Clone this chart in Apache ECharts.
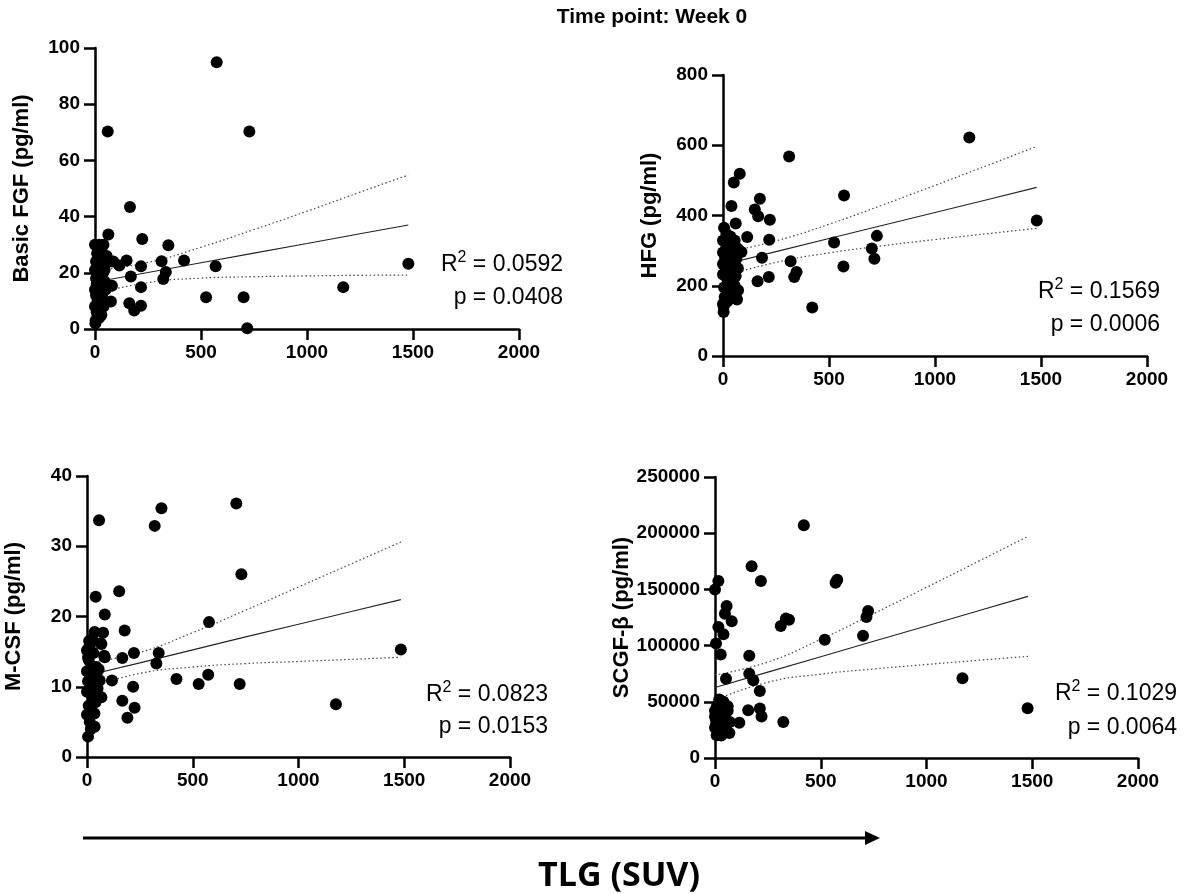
<!DOCTYPE html>
<html><head><meta charset="utf-8">
<script src="https://cdn.jsdelivr.net/npm/echarts@6/dist/echarts.min.js"></script>
<style>html,body{margin:0;padding:0;background:#fff}#c{width:1202px;height:894px}</style>
</head><body><div id="c"></div>
<script>
// ---------- data ----------
const mainTitle = 'Time point: Week 0';
const xAxisTitle = 'TLG (SUV)';
const xTickMax = 2000, xTickStep = 500;

// Panel 1: Basic FGF
const fgfX = [1478,1171,728,718,701,574,569,524,420,346,334,322,314,223,217,217,217,185,169,165,162,149,115,75,63,60,80,86,
  3,20,8,30,0,40,12,25,5,35,0,15,28,45,5,20,38,0,12,30,48,5,22,40,10,30,0,20,40,15,25,8,33,18,2,50,45,55];
const fgfY = [23.2,14.9,70.3,0.3,11.3,94.9,22.3,11.3,24.4,29.8,20.3,17.8,24.1,32,22.3,14.9,8.3,6.6,18.7,43.4,9.2,24.4,22.6,9.8,33.6,70.3,15.4,24,
  3,4,6,5,8,8,10,11,12,13,14,15,16,17,18,19,20,21,22,22,23,24,25,25,27,28,30,30,30,20,18,16,12,9,2,14,21,26];
const fgfFitX = [0,250,500,750,1000,1250,1478];
const fgfFit = [16.7,20.1,23.6,27.0,30.4,33.9,37.0];
const fgfUpper = [20.9,23.7,29.1,35.4,41.9,48.7,54.8];
const fgfLower = [12.5,16.5,18.1,18.6,18.9,19.1,19.2];
const fgfStats = ['0.0592','0.0408'];

// Panel 2: HFG
const hfgX = [312,79,51,571,40,174,150,166,221,60,114,218,524,726,702,714,568,184,319,347,336,163,216,421,66,3,3,1162,1480,
  5,16,35,0,55,20,16,71,40,0,32,87,55,10,63,30,0,45,16,70,35,0,60,20,40,24,71,5,35,8,63,20,0,45,55,30];
const hfgY = [568,519,494,457,427,448,417,398,388,377,339,331,323,342,306,277,255,280,270,239,225,213,225,138,161,140,125,622,386,
  365,348,340,329,329,318,310,305,300,295,291,296,285,280,277,270,262,258,249,250,240,232,228,220,210,211,187,195,180,168,163,155,148,175,200,260];
const hfgFitX = [0,250,500,750,1000,1250,1480];
const hfgFit = [260,297.2,334.3,371.5,408.6,445.8,480];
const hfgUpper = [293.8,327.8,375.1,429.3,485.7,543.2,596.5];
const hfgLower = [226.2,266.6,293.5,313.7,331.5,348.4,363.5];
const hfgStats = ['0.1569','0.0006'];

// Panel 3: M-CSF
const mcsfX = [57,352,320,706,730,152,41,84,577,178,76,65,81,167,222,339,328,118,218,423,528,573,722,167,225,191,1177,1484,
  5,36,13,0,22,8,40,68,25,0,15,50,30,5,13,60,45,0,44,20,8,5,84,30,13,68,36,25,0,18,35,55,10,45];
const mcsfY = [33.7,35.4,32.9,36.1,26.0,23.6,22.8,20.3,19.2,18.0,17.7,16.2,14.4,14.1,14.8,14.8,13.3,10.9,10.0,11.1,10.4,11.7,10.4,8.0,7.0,5.6,7.5,15.3,
  2.9,4.3,5.0,6.0,6.5,7.3,7.8,8.5,8.8,9.3,9.8,9.8,10.3,10.8,11.1,10.9,11.8,12.2,12.8,13.0,13.8,14.2,14.2,14.8,15.9,16.1,17.8,16.8,15.2,4.0,6.2,12.5,16.5,9.0];
const mcsfFitX = [0,250,500,750,1000,1250,1484];
const mcsfFit = [11.6,13.4,15.25,17.1,18.9,20.7,22.4];
const mcsfUpper = [13.4,14.9,17.7,20.9,24.2,27.5,30.6];
const mcsfLower = [9.8,11.9,12.8,13.3,13.6,13.9,14.2];
const mcsfStats = ['0.0823','0.0153'];

// Panel 4: SCGF-beta
const scgfX = [420,173,217,570,578,16,0,55,47,79,16,40,724,716,700,519,311,335,350,5,27,162,52,162,181,212,1170,1478,157,212,220,115,323,68,
  20,40,10,60,30,0,50,15,35,5,25,45,0,15,8,30,5,20,40,60,10,0,25,70,50];
const scgfY = [207000,170500,157500,156000,158500,157500,149800,135300,128400,121600,116600,110000,130800,125500,108700,105300,117500,124000,123000,101800,92000,91000,70600,75000,69200,59600,71000,44200,42400,44100,36900,31400,32000,22200,
  52000,50000,47000,46000,44000,42000,40000,38000,36000,34000,31000,29000,27000,25000,20200,20000,30000,45000,35000,42000,28000,37000,24000,32000,26000];
const scgfFitX = [0,250,500,750,1000,1250,1480];
const scgfFit = [62700,76400,90100,103800,117500,131200,143800];
const scgfUpper = [73900,85400,105600,128400,151800,175400,197200];
const scgfLower = [51500,67400,74600,79200,83200,87000,90400];
const scgfStats = ['0.1029','0.0064'];

const yNames = ['Basic FGF (pg/ml)','HFG (pg/ml)','M-CSF (pg/ml)','SCGF-\u03b2 (pg/ml)'];
const yMax = [100,800,40,250000];
const yStep = [20,200,10,50000];

// ---------- layout ----------
const grids = [
  {left:95, top:48, width:424, height:281},
  {left:723, top:75, width:424, height:281},
  {left:87, top:476, width:423, height:281},
  {left:715, top:477, width:423, height:281}
];
const statPos = [[563,263,298],[1160,290,325],[548,693,727],[1177,692,728]];

const panels = [
  {x:fgfX,y:fgfY,fx:fgfFitX,f:fgfFit,u:fgfUpper,l:fgfLower,s:fgfStats},
  {x:hfgX,y:hfgY,fx:hfgFitX,f:hfgFit,u:hfgUpper,l:hfgLower,s:hfgStats},
  {x:mcsfX,y:mcsfY,fx:mcsfFitX,f:mcsfFit,u:mcsfUpper,l:mcsfLower,s:mcsfStats},
  {x:scgfX,y:scgfY,fx:scgfFitX,f:scgfFit,u:scgfUpper,l:scgfLower,s:scgfStats}
];

const FONT = 'Liberation Sans';
const axLine = {show:true, onZero:false, lineStyle:{color:'#000', width:2.5}};
const axTick = {show:true, length:11, lineStyle:{color:'#000', width:2.5}};
const plain = v => String(v);

const xAxes = [], yAxes = [], series = [], graphics = [];
panels.forEach((p, i) => {
  xAxes.push({type:'value', gridIndex:i, min:0, max:xTickMax, interval:xTickStep,
    axisLine:axLine, axisTick:axTick, splitLine:{show:false},
    axisLabel:{color:'#000', fontWeight:'bold', fontSize:19, fontFamily:FONT, margin:14, formatter:plain}});
  yAxes.push({type:'value', gridIndex:i, min:0, max:yMax[i], interval:yStep[i],
    axisLine:axLine, axisTick:axTick, splitLine:{show:false},
    axisLabel:{color:'#000', fontWeight:'bold', fontSize:19, fontFamily:FONT, margin:15, formatter:plain},
    name:yNames[i], nameLocation:'middle', nameGap:62, nameRotate:90,
    nameTextStyle:{color:'#000', fontWeight:'bold', fontSize:22, fontFamily:FONT}});
  series.push({type:'scatter', xAxisIndex:i, yAxisIndex:i, symbol:'circle', symbolSize:12,
    itemStyle:{color:'#000', opacity:1}, clip:false, z:3,
    data:p.x.map((v,k)=>[v,p.y[k]])});
  series.push({type:'line', xAxisIndex:i, yAxisIndex:i, symbol:'none', smooth:false, z:2,
    lineStyle:{color:'#222', width:1.1}, data:p.fx.map((v,k)=>[v,p.f[k]])});
  [p.u, p.l].forEach(arr => series.push({type:'line', xAxisIndex:i, yAxisIndex:i, symbol:'none', smooth:true, z:2,
    lineStyle:{color:'#444', width:1.2, type:[1.5,2.5]}, data:p.fx.map((v,k)=>[v,arr[k]])}));
  const sp = statPos[i];
  graphics.push({type:'text', z:10, style:{x:sp[0], y:sp[1], align:'right', verticalAlign:'middle',
    text:'{a|R}{b|2}{a| = '+p.s[0]+'}',
    rich:{a:{fontSize:23, fontFamily:FONT, fill:'#000', lineHeight:26, verticalAlign:'bottom'},
          b:{fontSize:16, fontFamily:FONT, fill:'#000', lineHeight:26, verticalAlign:'top'}}}});
  graphics.push({type:'text', z:10, style:{x:sp[0], y:sp[2], align:'right', verticalAlign:'middle',
    text:'p = '+p.s[1], font:'23px "'+FONT+'"', fill:'#000'}});
});

graphics.push({type:'text', style:{x:652, y:17, align:'center', verticalAlign:'middle', text:mainTitle,
  font:'bold 21px "'+FONT+'"', fill:'#000'}});
graphics.push({type:'line', shape:{x1:83, y1:838, x2:868, y2:838}, style:{stroke:'#000', lineWidth:3}});
graphics.push({type:'polygon', shape:{points:[[865,831],[880,838],[865,845]]}, style:{fill:'#000'}});
graphics.push({type:'text', style:{x:619, y:876, align:'center', verticalAlign:'middle', text:xAxisTitle,
  font:'bold 34px "Open Sans"', fill:'#000'}});

const chart = echarts.init(document.getElementById('c'), null, {renderer:'canvas'});
chart.setOption({
  animation:false, backgroundColor:'#fff',
  grid: grids.map(g => Object.assign({containLabel:false, outerBoundsMode:'none'}, g)),
  xAxis:xAxes, yAxis:yAxes, series:series, graphic:graphics
});
</script></body></html>
